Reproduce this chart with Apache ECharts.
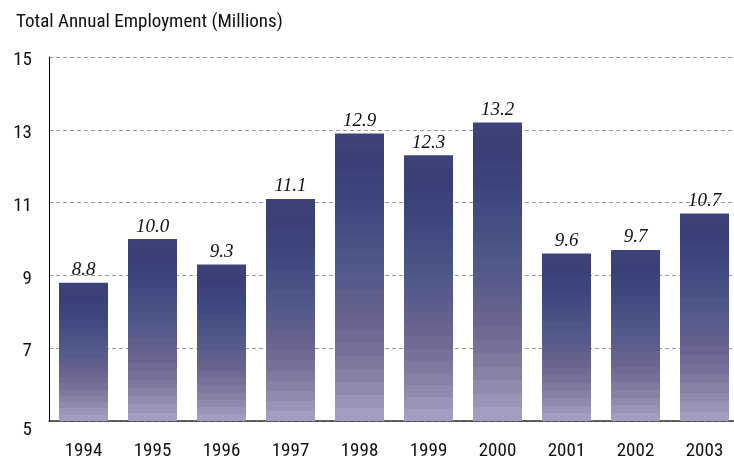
<!DOCTYPE html>
<html>
<head>
<meta charset="utf-8">
<script src="https://cdn.jsdelivr.net/npm/echarts@6/dist/echarts.min.js"></script>
<style>
  html, body { margin: 0; padding: 0; background: #fff; }
  #chart { width: 734px; height: 458px; }
</style>
</head>
<body>
<div id="chart"></div>
<script>
// Total annual employment, millions of jobs
const years = ['1994', '1995', '1996', '1997', '1998', '1999', '2000', '2001', '2002', '2003'];
const employment = [8.8, 10.0, 9.3, 11.1, 12.9, 12.3, 13.2, 9.6, 9.7, 10.7];
const yTicks = { min: 5, max: 15, step: 2 };

// Colour ramp of each bar, top (0) to bottom (1)
const ramp = [
  [0.00, [62, 67, 122]],
  [0.10, [58, 62, 118]],
  [0.25, [63, 71, 127]],
  [0.40, [73, 84, 133]],
  [0.50, [83, 90, 138]],
  [0.60, [98, 96, 143]],
  [0.68, [111, 102, 145]],
  [0.76, [121, 113, 154]],
  [0.86, [138, 133, 168]],
  [0.95, [157, 153, 186]],
  [1.00, [166, 163, 195]]
];

function rampAt(t) {
  for (let i = 1; i < ramp.length; i++) {
    if (t <= ramp[i][0]) {
      const [t0, c0] = ramp[i - 1], [t1, c1] = ramp[i];
      const k = (t - t0) / (t1 - t0);
      const c = c0.map((v, j) => Math.round(v + (c1[j] - v) * k));
      return 'rgb(' + c.join(',') + ')';
    }
  }
  return 'rgb(' + ramp[ramp.length - 1][1].join(',') + ')';
}

// Stepped gradient: the bar is filled in flat horizontal bands
const bands = 22;
const stops = [];
for (let i = 0; i < bands; i++) {
  const col = rampAt((i + 0.5) / bands);
  stops.push({ offset: i / bands, color: col });
  stops.push({ offset: (i + 1) / bands, color: col });
}

const chart = echarts.init(document.getElementById('chart'), null, { renderer: 'canvas' });

const sansFont = '"Roboto Condensed", "Liberation Sans Narrow", sans-serif';
const inkColor = '#111';

chart.setOption({
  animation: false,
  title: {
    text: 'Total Annual Employment (Millions)',
    left: 11,
    top: 8,
    textStyle: { fontFamily: sansFont, fontSize: 19, fontWeight: 'normal', color: inkColor }
  },
  grid: {
    left: 49, top: 57, width: 690, height: 364,
    containLabel: false,
    outerBoundsMode: 'none'
  },
  xAxis: {
    type: 'category',
    data: years,
    axisLine: { show: true, lineStyle: { color: '#333', width: 1.5 } },
    axisTick: { show: false },
    axisLabel: { fontFamily: sansFont, fontSize: 19, color: inkColor, margin: 21 }
  },
  yAxis: {
    type: 'value',
    min: yTicks.min,
    max: yTicks.max,
    interval: yTicks.step,
    axisLine: { show: true, lineStyle: { color: '#000', width: 1 } },
    axisTick: { show: false },
    splitLine: { show: true, lineStyle: { color: '#9a9a9a', type: [4, 3], width: 1 } },
    axisLabel: {
      margin: 17,
      formatter: v => (v === yTicks.min ? '{low|' + v + '}' : '{n|' + v + '}'),
      rich: {
        n: { fontFamily: sansFont, fontSize: 19, color: inkColor, padding: [7, 0, 0, 0] },
        low: { fontFamily: sansFont, fontSize: 19, color: inkColor, padding: [19, 0, 0, 0] }
      }
    }
  },
  series: [{
    type: 'bar',
    data: employment,
    barWidth: 49,
    itemStyle: {
      color: { type: 'linear', x: 0, y: 0, x2: 0, y2: 1, colorStops: stops, global: false }
    },
    label: {
      show: true,
      position: 'top',
      distance: 3,
      formatter: p => p.value.toFixed(1),
      fontFamily: '"Liberation Serif", "Times New Roman", serif',
      fontStyle: 'italic',
      fontSize: 19,
      color: inkColor
    }
  }]
});
</script>
</body>
</html>
